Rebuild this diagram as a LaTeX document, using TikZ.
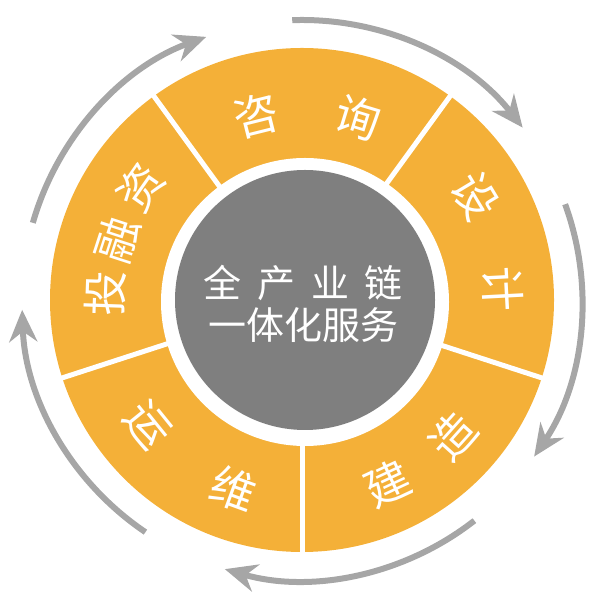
\documentclass[tikz,border=0pt]{standalone}
\usepackage{fontspec}
\newfontfamily\cjk{Noto Sans CJK SC}
\usetikzlibrary{arrows.meta,calc}

\definecolor{ringorange}{RGB}{244,176,56}
\definecolor{hubgray}{RGB}{127,127,127}
\definecolor{arrowgray}{RGB}{166,166,166}

\begin{document}
\begin{tikzpicture}[
  x=1pt, y=1pt,
  font=\cjk,
  >=Stealth,
  segtext/.style={text=white, inner sep=0pt,
                  font=\cjk\fontsize{45}{45}\selectfont},
  gapline/.style={white, line width=5pt},
  cyclearr/.style={-{Stealth[length=32pt, width=28pt]},
                   arrowgray, line width=6pt},
]
\useasboundingbox (0,0) rectangle (604,604);
\coordinate (c) at (302,304);

% --- Orange ring, white gap, grey hub ---
\fill[ringorange] (c) circle[radius=252];
\fill[white] (305,302) circle[radius=144];
\node[circle, fill=hubgray, minimum size=260pt, inner sep=0pt]
  (hub) at (305,304) {};

% --- White cuts between the five segments ---
\draw[gapline] ($(c)+(54:138)$)  -- ($(c)+(54:258)$);
\draw[gapline] ($(c)+(126:138)$) -- ($(c)+(126:258)$);
\draw[gapline] ($(c)+(198:138)$) -- ($(c)+(198:258)$);
\draw[gapline] ($(c)+(270:138)$) -- ($(c)+(270:258)$);
\draw[gapline] ($(c)+(342:138)$) -- ($(c)+(342:258)$);

% --- Segment labels (top half: tops outward, bottom half: tops inward) ---
\node[segtext, rotate=14]   (zi)   at ($(c)+(104:190)$) {咨};
\node[segtext, rotate=-17]  (xun)  at ($(c)+(73:191)$)  {询};
\node[segtext, rotate=-59]  (she)  at ($(c)+(31:202)$)  {设};
\node[segtext, rotate=-87]  (ji)   at ($(c)+(3:201)$)   {计};
\node[segtext, rotate=25]   (jian) at ($(c)+(-65:203)$) {建};
\node[segtext, rotate=48]   (zao)  at ($(c)+(-42:203)$) {造};
\node[segtext, rotate=-51]  (yun)  at ($(c)+(219:198)$) {运};
\node[segtext, rotate=-20]  (wei)  at ($(c)+(250:201)$) {维};
\node[segtext, rotate=88]   (tou)  at ($(c)+(178:197)$) {投};
\node[segtext, rotate=72]   (rong) at ($(c)+(162:194)$) {融};
\node[segtext, rotate=55]   (zifin) at ($(c)+(145:197)$) {资};

% --- Hub text ---
\node[text=white, align=center, inner sep=0pt,
      font=\cjk\fontsize{38}{42}\selectfont]
  (hubtext) at (303,300) {%
  \makebox[200pt][s]{全\hfill 产\hfill 业\hfill 链}\\
  一体化服务%
};

% --- Cycle arrows round the ring ---
\coordinate (arrA) at ($(c)+(164:280)$);
\coordinate (arrB) at ($(c)+(92:280)$);
\coordinate (arrC) at ($(c)+(20:280)$);
\coordinate (arrD) at ($(c)+(-52:280)$);
\coordinate (arrE) at ($(c)+(-124:280)$);
\draw[cyclearr] (arrA) arc[start angle=164,  end angle=110,  radius=280];
\draw[cyclearr] (arrB) arc[start angle=92,   end angle=38,   radius=280];
\draw[cyclearr] (arrC) arc[start angle=20,   end angle=-34,  radius=280];
\draw[cyclearr] (arrD) arc[start angle=-52,  end angle=-106, radius=280];
\draw[cyclearr] (arrE) arc[start angle=-124, end angle=-178, radius=280];

\end{tikzpicture}
\end{document}
